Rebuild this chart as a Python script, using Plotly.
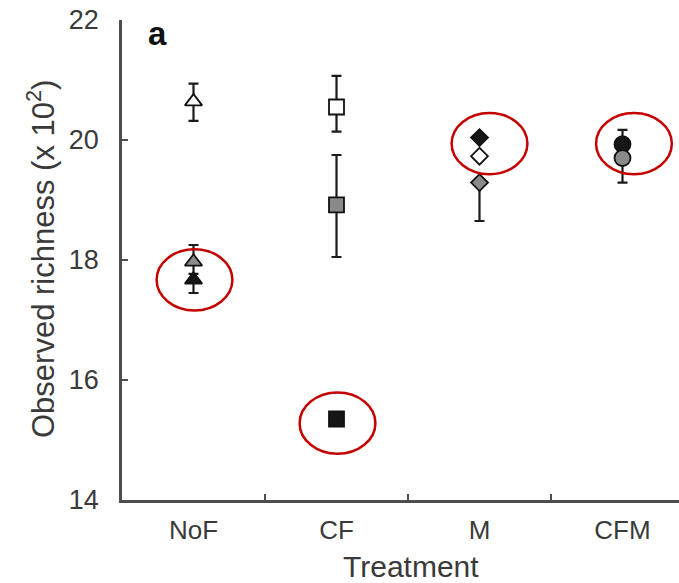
import plotly.graph_objects as go

# ---- data ----
categories = ["NoF", "CF", "M", "CFM"]
symbols = ["triangle-up", "square", "diamond", "circle"]

open_mean = [20.64, 20.55, 19.73, None]
open_err_hi = [0.30, 0.52, 0.0, 0.0]
open_err_lo = [0.32, 0.41, 0.0, 0.0]

gray_mean = [17.97, 18.92, 19.29, 19.70]
gray_err_hi = [0.28, 0.83, 0.0, 0.47]
gray_err_lo = [0.20, 0.87, 0.64, 0.41]

black_mean = [17.67, 15.35, 20.04, 19.93]
black_err_hi = [0.0, 0.0, 0.0, 0.0]
black_err_lo = [0.22, 0.0, 0.0, 0.0]

draw_order = [["open", "gray", "black"], ["open", "gray", "black"],
              ["open", "gray", "black"], ["open", "black", "gray"]]

# highlighted groups (red ellipses): category index offset, centre value
ellipse_x = [0.007, 1.007, 2.07, 3.08]
ellipse_y = [17.67, 15.28, 19.94, 19.94]

y_ticks = [14, 16, 18, 20, 22]

# ---- styles ----
fills = {"open": "white", "gray": "#8a8a8a", "black": "#161616"}
series = {
    "open": (open_mean, open_err_hi, open_err_lo),
    "gray": (gray_mean, gray_err_hi, gray_err_lo),
    "black": (black_mean, black_err_hi, black_err_lo),
}
sizes = {"triangle-up": 15, "square": 15, "diamond": 13, "circle": 16}

FONT = "Liberation Sans, Arial, sans-serif"
W, H = 679, 583
ML, MR, MT, MB = 122, 0, 20, 83
PW = W - ML - MR
PH = H - MT - MB

fig = go.Figure()
for i, cat in enumerate(categories):
    for key in draw_order[i]:
        vals, hi, lo = series[key]
        if vals[i] is None:
            continue
        fig.add_trace(go.Scatter(
            x=[cat], y=[vals[i]], mode="markers", showlegend=False,
            marker=dict(symbol=symbols[i], size=sizes[symbols[i]],
                        color=fills[key], line=dict(color="#111", width=1.8)),
            error_y=dict(type="data", symmetric=False, array=[hi[i]],
                         arrayminus=[lo[i]], color="#1a1a1a",
                         thickness=2.2, width=5, visible=True),
        ))

# x range: last category boundary lies outside the window
px_per_cat = 143.0
x_hi = PW / px_per_cat - 0.5

for ex, ey in zip(ellipse_x, ellipse_y):
    fig.add_shape(type="circle", xref="x", yref="y",
                  x0=ex - 0.265, x1=ex + 0.265, y0=ey - 0.51, y1=ey + 0.51,
                  line=dict(color="#c40000", width=2.5), fillcolor="rgba(0,0,0,0)")

fig.update_layout(
    width=W, height=H,
    margin=dict(l=ML, r=MR, t=MT, b=MB, pad=0),
    plot_bgcolor="white", paper_bgcolor="white",
    font=dict(family=FONT, color="#3a3a3a"),
    xaxis=dict(type="category", categoryorder="array", categoryarray=categories,
               range=[-0.5, x_hi], showline=True, linecolor="#4d4d4d", linewidth=2.5,
               ticks="inside", ticklen=6, tickwidth=2, tickcolor="#4d4d4d",
               tickson="boundaries", showgrid=False, zeroline=False,
               tickfont=dict(size=26, color="#3a3a3a"), ticklabelstandoff=5),
    yaxis=dict(range=[14, 22], tickvals=y_ticks, showline=True, linecolor="#4d4d4d",
               linewidth=2.5, ticks="inside", ticklen=6, tickwidth=2,
               tickcolor="#4d4d4d", showgrid=False, zeroline=False,
               tickfont=dict(size=27, color="#3a3a3a"), ticklabelstandoff=15),
)

def px_to_paper_x(px):
    return (px - ML) / PW

def px_to_paper_y(py):
    return (H - MB - py) / PH

fig.add_annotation(text="Treatment", xref="paper", yref="paper",
                   x=px_to_paper_x(411), y=px_to_paper_y(566), xanchor="center",
                   yanchor="middle", showarrow=False,
                   font=dict(size=30, family=FONT, color="#3a3a3a"))
fig.add_annotation(text="Observed richness (x 10<sup>2</sup>)", xref="paper", yref="paper",
                   x=px_to_paper_x(41), y=px_to_paper_y(259), xanchor="center",
                   yanchor="middle", textangle=-90, showarrow=False,
                   font=dict(size=31, family=FONT, color="#3a3a3a"))
fig.add_annotation(text="<b>a</b>", xref="paper", yref="paper",
                   x=px_to_paper_x(146), y=px_to_paper_y(33), xanchor="left",
                   yanchor="middle", showarrow=False,
                   font=dict(size=33, family=FONT, color="#111"))

fig.write_html("out.html", config={"displayModeBar": False},
               post_script="document.body.style.margin='0px';"
                           "document.body.style.overflow='hidden';")
